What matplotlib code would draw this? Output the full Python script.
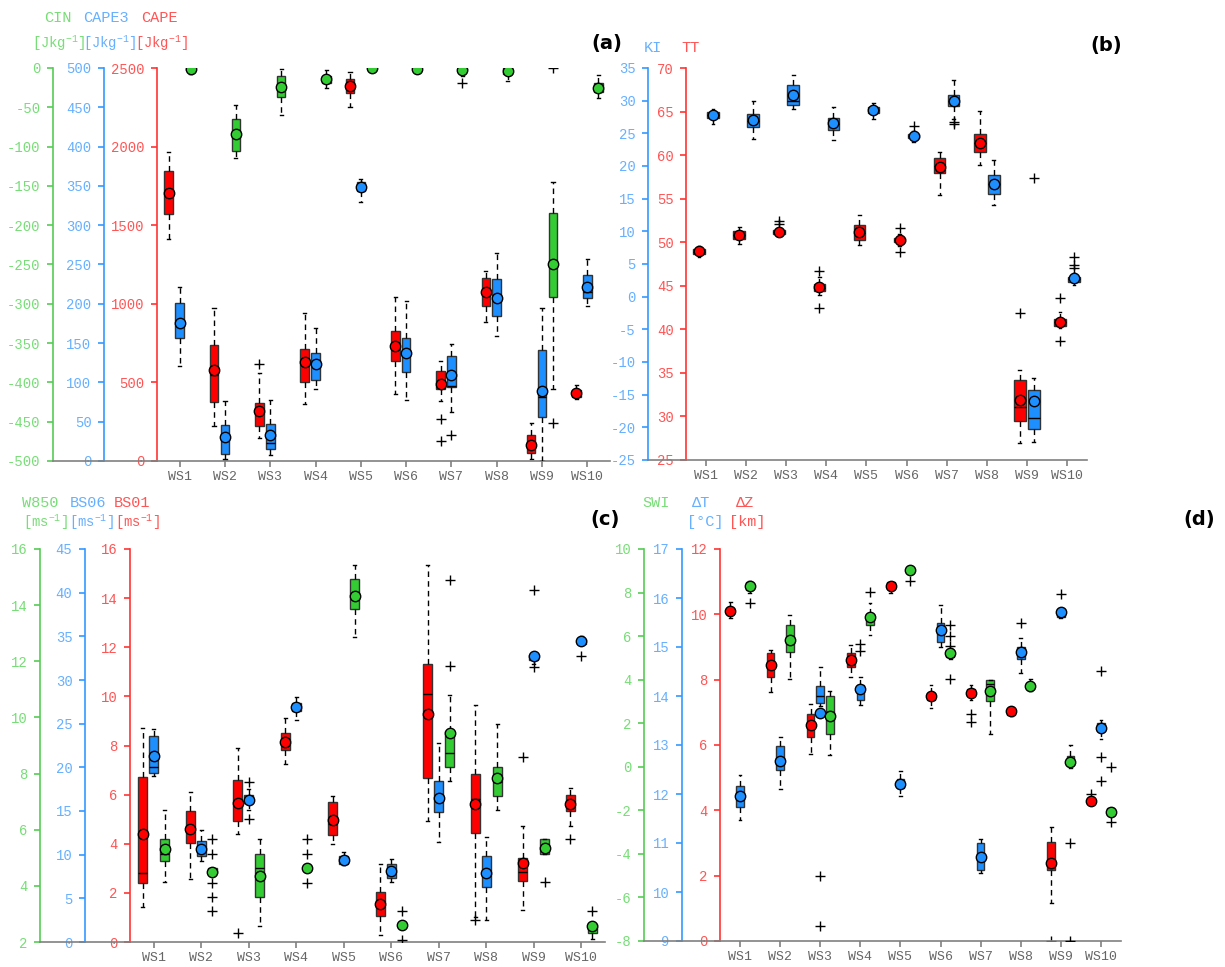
import matplotlib
matplotlib.use('Agg')
import matplotlib.pyplot as plt
from matplotlib.lines import Line2D

plt.rcParams['font.family'] = ['Liberation Mono', 'DejaVu Sans Mono']
plt.rcParams['axes.unicode_minus'] = False

W, H = 1225, 967

stations = ['WS1', 'WS2', 'WS3', 'WS4', 'WS5', 'WS6', 'WS7', 'WS8', 'WS9', 'WS10']

# each row: whisker low, q1, median, q3, whisker high, mean
# (a)
cape = [(1412, 1570, 1690, 1846, 1963, 1703), (221, 376, 546, 737, 971, 582),
        (149, 223, 310, 372, 561, 317), (365, 503, 620, 711, 943, 627),
        (2255, 2340, 2390, 2430, 2474, 2387), (429, 637, 740, 826, 1045, 733),
        (380, 457, 480, 571, 635, 488), (886, 988, 1070, 1162, 1211, 1072),
        (15, 53, 95, 164, 242, 100), (397, 408, 430, 454, 486, 433)]
cape_out = [[], [], [616], [], [], [], [265, 127], [], [], []]

cape3 = [(121, 156, 176, 200.5, 221.7, 175), (3, 9, 30, 46, 76.5, 30),
         (8, 15, 23, 47.6, 78, 33), (91, 103, 123, 137, 169.5, 123),
         (330, 343.6, 349, 354.7, 359, 349), (77, 113, 137, 157, 203, 137),
         (62.5, 94, 95, 134, 149, 110), (159, 185, 208, 232, 265, 208),
         (0, 56, 82, 141, 195, 89), (197, 208, 215, 237, 257, 221)]
cape3_out = [[], [], [], [], [], [], [33], [], [], []]

cin = [(-8, -3, -1, 0, 0, -1.5), (-115, -106, -84, -65, -47, -84),
       (-60, -37, -24, -10.5, -1, -24.5), (-25.5, -19, -14, -10, -2, -14.5),
       (0, 0, 0, 0, 0, 0), (-3, -1, 0, 0, 0, -1),
       (-10, -3, -1, 0, 0, -3), (-17, -7.5, -3, 0, 0, -4),
       (-409, -291, -250, -184, -144.5, -250), (-38, -31, -25, -19, -9.5, -25.5)]
cin_out = [[], [], [], [], [], [], [-19], [], [-452, 0], []]

# (b)
tt = [(48.25, 48.63, 48.9, 49.24, 49.6, 48.94), (49.8, 50.39, 50.8, 51.27, 51.8, 50.85),
      (50.74, 50.93, 51.2, 51.43, 51.6, 51.2), (43.9, 44.4, 44.8, 45.2, 46.0, 44.87),
      (49.7, 50.28, 51.1, 51.96, 53.1, 51.16), (49.6, 50.0, 50.3, 50.5, 50.96, 50.28),
      (55.45, 57.9, 58.8, 59.7, 60.3, 58.6), (58.9, 60.35, 61.4, 62.45, 65.1, 61.4),
      (27.0, 29.5, 31.05, 34.2, 35.3, 31.9), (40.2, 40.4, 40.8, 41.15, 42.0, 40.84)]
tt_out = [[], [], [52.1, 52.4], [46.7, 42.5], [], [51.6, 48.9], [], [], [41.9], [43.65, 38.7]]

ki = [(26.4, 27.34, 27.8, 28.26, 28.8, 27.8), (24.17, 25.96, 26.9, 28.0, 30.0, 27.0),
      (28.7, 29.4, 29.9, 32.45, 34.0, 30.8), (24.0, 25.45, 26.5, 27.4, 29.0, 26.6),
      (27.2, 28.1, 28.5, 29.0, 29.6, 28.5), (23.6, 24.3, 24.6, 24.9, 25.3, 24.6),
      (27.2, 29.2, 30.0, 30.9, 33.2, 30.0), (14.06, 15.7, 17.2, 18.66, 20.85, 17.3),
      (-22.2, -20.2, -18.5, -14.3, -12.4, -15.9), (1.8, 2.2, 2.7, 3.08, 3.6, 2.8)]
ki_out = [[], [], [], [], [], [26.1], [26.7, 26.4], [], [18.15], [6.1, 4.9, 4.35]]

# (c)
bs01 = [(1.43, 2.41, 2.81, 6.73, 8.73, 4.38), (2.56, 4.04, 4.6, 5.33, 6.12, 4.61),
        (4.38, 4.92, 5.6, 6.59, 7.91, 5.64), (7.23, 7.82, 8.15, 8.52, 9.13, 8.16),
        (4.0, 4.37, 4.82, 5.70, 5.95, 4.98), (0.27, 1.06, 1.5, 2.04, 3.19, 1.56),
        (4.93, 6.66, 10.08, 11.31, 15.35, 9.30), (1.0, 4.45, 5.84, 6.83, 9.64, 5.6),
        (1.32, 2.49, 2.83, 3.44, 4.71, 3.23), (4.71, 5.34, 5.6, 5.98, 6.27, 5.61)]
bs01_out = [[], [], [0.38], [], [], [], [], [0.88], [7.54], [4.21]]

bs06 = [(19.0, 19.4, 20.07, 23.6, 24.4, 21.3), (9.3, 9.8, 10.7, 11.6, 12.8, 10.7),
        (15.1, 15.9, 16.3, 16.8, 17.5, 16.3), (25.4, 26.5, 26.9, 27.4, 28.0, 26.9),
        (8.8, 8.98, 9.4, 9.86, 10.3, 9.43), (6.88, 7.37, 8.1, 8.9, 9.55, 8.14),
        (11.5, 14.9, 16.4, 18.45, 22.8, 16.5), (2.56, 6.3, 7.9, 9.8, 12.0, 7.95),
        (31.8, 32.3, 32.7, 32.85, 33.0, 32.7), (34.1, 34.1, 34.4, 34.7, 35.0, 34.45)]
bs06_out = [[], [], [18.3, 14.1], [], [], [], [], [], [40.3, 31.5], [32.7]]

w850 = [(4.12, 4.89, 5.15, 5.66, 6.70, 5.33), (4.47, 4.47, 4.5, 4.64, 4.64, 4.5),
        (2.57, 3.61, 4.64, 5.15, 5.66, 4.34), (4.65, 4.65, 4.65, 4.65, 4.65, 4.65),
        (12.85, 13.88, 14.3, 14.92, 15.43, 14.32), (2.59, 2.59, 2.59, 2.59, 2.59, 2.59),
        (7.74, 8.22, 8.75, 9.52, 10.8, 9.43), (6.69, 7.2, 7.7, 8.22, 9.76, 7.85),
        (5.15, 5.15, 5.36, 5.66, 5.66, 5.36), (2.12, 2.32, 2.5, 2.65, 2.65, 2.57)]
w850_out = [[], [5.66, 5.15, 4.1, 3.6, 3.1], [], [5.66, 5.15, 4.1], [], [3.09, 2.06],
            [14.9, 11.84], [], [4.12], [3.09]]

# (d)
dz = [(9.89, 10.02, 10.1, 10.19, 10.37, 10.11), (7.62, 8.07, 8.45, 8.81, 8.9, 8.44),
      (5.73, 6.26, 6.6, 6.94, 7.26, 6.62), (8.07, 8.40, 8.6, 8.81, 9.07, 8.61),
      (10.65, 10.77, 10.88, 10.98, 10.98, 10.88), (7.13, 7.38, 7.49, 7.59, 7.84, 7.49),
      (7.38, 7.49, 7.6, 7.72, 7.85, 7.59), (6.9, 6.92, 7.03, 7.1, 7.15, 7.03),
      (1.15, 2.18, 2.3, 3.04, 3.48, 2.38), (4.22, 4.25, 4.29, 4.34, 4.34, 4.29)]
dz_out = [[], [], [], [], [], [], [6.96, 6.7], [], [0.0], [4.5]]

dt = [(11.47, 11.74, 11.96, 12.17, 12.38, 11.96), (12.1, 12.49, 12.68, 12.98, 13.17, 12.68),
      (13.8, 13.85, 14.0, 14.21, 14.6, 13.65), (13.81, 13.92, 14.1, 14.23, 14.38, 14.15),
      (11.95, 12.12, 12.2, 12.3, 12.47, 12.2), (14.99, 15.11, 15.3, 15.5, 15.86, 15.35),
      (10.38, 10.45, 10.7, 11.0, 11.08, 10.72), (14.46, 14.76, 14.9, 15.0, 15.18, 14.9),
      (15.6, 15.62, 15.7, 15.77, 15.8, 15.71), (13.13, 13.28, 13.35, 13.45, 13.51, 13.34)]
dt_out = [[], [], [10.33, 9.31], [15.06, 14.92], [], [], [], [15.48], [16.09], [14.52, 12.76, 12.27]]

swi = [(7.97, 8.13, 8.3, 8.47, 8.51, 8.28), (4.03, 5.26, 5.8, 6.49, 6.98, 5.83),
       (0.52, 1.50, 2.5, 3.26, 3.5, 2.31), (6.03, 6.49, 6.9, 7.02, 7.52, 6.86),
       (9.02, 9.02, 9.02, 9.02, 9.02, 9.02), (4.95, 5.04, 5.2, 5.38, 5.45, 5.22),
       (1.5, 3.0, 3.8, 3.97, 3.97, 3.49), (3.5, 3.55, 3.7, 3.86, 4.03, 3.72),
       (-0.07, 0.1, 0.24, 0.5, 1.0, 0.24), (-2.2, -2.2, -2.06, -1.9, -1.9, -2.06)]
swi_out = [[7.52], [], [], [8.02], [8.51], [6.52, 6.02, 5.53, 4.03], [], [], [-3.48, -8.0], [-0.02, -2.52]]

RED, BLUE, GREEN = '#ff0000', '#1e8fff', '#33cc33'
RED_AX, BLUE_AX, GREEN_AX = '#ff3333', '#3399ff', '#55cc55'
RED_TX, BLUE_TX, GREEN_TX = '#ff5555', '#66b0ff', '#77dd77'
GRAY = '#808080'

JKG = r'[Jkg$^{\mathregular{-1}}$]'
MS = r'[ms$^{\mathregular{-1}}$]'


def boxes(ax, rows, outs, shift, width, color):
    stats = [dict(whislo=r[0], q1=r[1], med=r[2], q3=r[3], whishi=r[4], mean=r[5], fliers=o)
             for r, o in zip(rows, outs)]
    pos = [i + 1 + shift for i in range(len(rows))]
    ax.bxp(stats, positions=pos, widths=width, capwidths=0.07, patch_artist=True,
           showmeans=True, manage_ticks=False,
           boxprops=dict(facecolor=color, edgecolor='#333333', linewidth=1),
           medianprops=dict(color='black', linewidth=1),
           whiskerprops=dict(color='black', linestyle=(0, (4, 3)), linewidth=1),
           capprops=dict(color='black', linewidth=1),
           flierprops=dict(marker='+', markeredgecolor='black', markersize=7, linestyle='none'),
           meanprops=dict(marker='o', markerfacecolor=color, markeredgecolor='black', markersize=7.5))


def yaxis(ax, color, tcolor, lim, ticks, offset):
    for s in ['top', 'right', 'bottom']:
        ax.spines[s].set_visible(False)
    ax.spines['left'].set_visible(True)
    ax.spines['left'].set_color(color)
    ax.spines['left'].set_linewidth(1.2)
    ax.spines['left'].set_position(('axes', offset))
    ax.yaxis.set_ticks_position('left')
    ax.set_ylim(lim)
    ax.set_yticks(ticks)
    ax.tick_params(axis='y', colors=color, labelcolor=tcolor, direction='out',
                   length=4, width=1.2, pad=5, labelsize=10)


def panel(left, right, top, bottom):
    ax = fig.add_axes([left / W, 1 - bottom / H, (right - left) / W, (bottom - top) / H])
    ax.set_xlim(0.5, 10.5)
    ax.set_xticks(range(1, 11))
    ax.set_xticklabels(stations)
    ax.spines['bottom'].set_color(GRAY)
    ax.spines['bottom'].set_linewidth(1.2)
    ax.tick_params(axis='x', colors=GRAY, labelcolor='#666666', direction='out',
                   length=4, width=1.2, pad=3, labelsize=9.5)
    return ax


def label(x, y, s, color, size=11):
    fig.text(x / W, 1 - y / H, s, color=color, fontsize=size, ha='center', va='center')


def base_line(x0, x1, y):
    fig.add_artist(Line2D([x0 / W, x1 / W], [1 - y / H, 1 - y / H], color=GRAY, linewidth=1.2))


fig = plt.figure(figsize=(12.25, 9.67), dpi=100)

# (a) CAPE / CAPE3 / CIN
ax = panel(157, 610, 68, 461)
ax2 = ax.twinx()
ax3 = ax.twinx()
yaxis(ax, RED_AX, RED_TX, (0, 2500), range(0, 2501, 500), 0)
yaxis(ax2, BLUE_AX, BLUE_TX, (0, 500), range(0, 501, 50), (104 - 157) / 453)
yaxis(ax3, GREEN_AX, GREEN_TX, (-500, 0), range(-500, 1, 50), (53 - 157) / 453)
ax.spines['bottom'].set_visible(True)
boxes(ax, cape, cape_out, -0.24, 0.19, RED)
boxes(ax2, cape3, cape3_out, 0, 0.19, BLUE)
boxes(ax3, cin, cin_out, 0.24, 0.19, GREEN)
base_line(53, 157, 461)
label(58, 18, 'CIN', GREEN_TX)
label(106, 18, 'CAPE3', BLUE_TX)
label(159, 18, 'CAPE', RED_TX)
label(59, 43, JKG, GREEN_TX, 10)
label(110, 43, JKG, BLUE_TX, 10)
label(162, 43, JKG, RED_TX, 10)
fig.text(622 / W, 1 - 43 / H, '(a)', family='DejaVu Sans', fontweight='bold', fontsize=14,
         ha='right', va='center')

# (b) TT / KI
ax = panel(686, 1087, 68, 460)
ax2 = ax.twinx()
yaxis(ax, RED_AX, RED_TX, (25, 70), range(25, 71, 5), 0)
yaxis(ax2, BLUE_AX, BLUE_TX, (-25, 35), range(-25, 36, 5), (648 - 686) / 401)
ax.spines['bottom'].set_visible(True)
boxes(ax, tt, tt_out, -0.175, 0.29, RED)
boxes(ax2, ki, ki_out, 0.175, 0.29, BLUE)
base_line(648, 686, 460)
label(653, 48, 'KI', BLUE_TX)
label(690, 48, 'TT', RED_TX)
fig.text(1122 / W, 1 - 45 / H, '(b)', family='DejaVu Sans', fontweight='bold', fontsize=14,
         ha='right', va='center')

# (c) BS01 / BS06 / W850
ax = panel(130, 605, 549, 942)
ax2 = ax.twinx()
ax3 = ax.twinx()
yaxis(ax, RED_AX, RED_TX, (0, 16), range(0, 17, 2), 0)
yaxis(ax2, BLUE_AX, BLUE_TX, (0, 45), range(0, 46, 5), (85 - 130) / 475)
yaxis(ax3, GREEN_AX, GREEN_TX, (2, 16), range(2, 17, 2), (40 - 130) / 475)
ax.spines['bottom'].set_visible(True)
boxes(ax, bs01, bs01_out, -0.23, 0.19, RED)
boxes(ax2, bs06, bs06_out, 0, 0.19, BLUE)
boxes(ax3, w850, w850_out, 0.23, 0.19, GREEN)
base_line(40, 130, 942)
label(40, 503, 'W850', GREEN_TX)
label(88, 503, 'BS06', BLUE_TX)
label(132, 503, 'BS01', RED_TX)
label(45, 522, MS, GREEN_TX, 10)
label(91, 522, MS, BLUE_TX, 10)
label(137, 522, MS, RED_TX, 10)
fig.text(620 / W, 1 - 520 / H, '(c)', family='DejaVu Sans', fontweight='bold', fontsize=14,
         ha='right', va='center')

# (d) dZ / dT / SWI
ax = panel(720, 1121, 549, 941)
ax2 = ax.twinx()
ax3 = ax.twinx()
yaxis(ax, RED_AX, RED_TX, (0, 12), range(0, 13, 2), 0)
yaxis(ax2, BLUE_AX, BLUE_TX, (9, 17), range(9, 18, 1), (682 - 720) / 401)
yaxis(ax3, GREEN_AX, GREEN_TX, (-8, 10), range(-8, 11, 2), (644 - 720) / 401)
ax.spines['bottom'].set_visible(True)
boxes(ax, dz, dz_out, -0.24, 0.19, RED)
boxes(ax2, dt, dt_out, 0, 0.19, BLUE)
boxes(ax3, swi, swi_out, 0.24, 0.19, GREEN)
base_line(644, 720, 941)
label(656, 503, 'SWI', GREEN_TX)
label(701, 503, 'ΔT', BLUE_TX)
label(745, 503, 'ΔZ', RED_TX)
label(705, 522, '[°C]', BLUE_TX)
label(747, 522, '[km]', RED_TX)
fig.text(1215 / W, 1 - 520 / H, '(d)', family='DejaVu Sans', fontweight='bold', fontsize=14,
         ha='right', va='center')

fig.savefig('out.png', dpi=100)
